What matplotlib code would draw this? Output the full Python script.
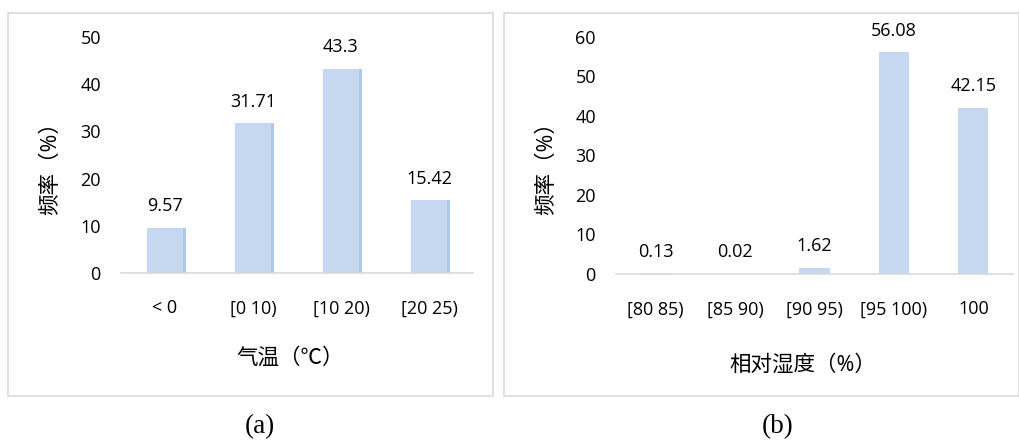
import matplotlib
matplotlib.use("Agg")
import matplotlib.pyplot as plt
from matplotlib.patches import Rectangle
import matplotlib.patheffects as pe

plt.rcParams['font.family'] = ['Open Sans', 'Noto Sans CJK SC', 'DejaVu Sans']

temp_cats = ['< 0', '[0 10)', '[10 20)', '[20 25)']
temp_vals = [9.57, 31.71, 43.3, 15.42]
temp_labels = ['9.57', '31.71', '43.3', '15.42']

hum_cats = ['[80 85)', '[85 90)', '[90 95)', '[95 100)', '100']
hum_vals = [0.13, 0.02, 1.62, 56.08, 42.15]
hum_labels = ['0.13', '0.02', '1.62', '56.08', '42.15']

W, H = 1020, 441
fig = plt.figure(figsize=(W / 100, H / 100), dpi=100)

def fx(px):
    return px / W

def fy(py):
    return 1 - py / H

# panel borders
for x0, x1 in [(8, 493), (504, 1019)]:
    fig.patches.append(Rectangle((fx(x0), fy(396)), fx(x1 - x0), (396 - 13) / H,
                                 transform=fig.transFigure, fill=False,
                                 edgecolor='#D9D9D9', linewidth=1.2))

bar_color = '#C5D8F0'

def setup(ax, cats, vals, labels, ymax, ystep, width, xlabel, ylc, xlc, shadow):
    x = range(len(cats))
    bars = ax.bar(x, vals, width=width, color=bar_color, zorder=2)
    if shadow:
        for b in bars:
            b.set_path_effects([pe.SimplePatchShadow(offset=(1.6, 0), shadow_rgbFace='#8DB3DA', alpha=0.7),
                                pe.Normal()])
    for xi, v, lab in zip(x, vals, labels):
        ax.annotate(lab, (xi, v), xytext=(0, 15.5), textcoords='offset points',
                    ha='center', va='center', fontsize=13, color='black')
    ax.set_xlim(-0.5, len(cats) - 0.5)
    ax.set_ylim(0, ymax)
    ax.set_yticks(range(0, ymax + 1, ystep))
    ax.set_xticks(list(x))
    ax.set_xticklabels(cats)
    for s in ['top', 'right', 'left']:
        ax.spines[s].set_visible(False)
    ax.spines['bottom'].set_color('#D9D9D9')
    ax.spines['bottom'].set_linewidth(1.2)
    ax.tick_params(axis='both', length=0, labelsize=13, colors='black')
    ax.tick_params(axis='x', pad=19)
    ax.tick_params(axis='y', pad=14.5)
    ax.set_ylabel('频率（%）', fontsize=15.5)
    ax.yaxis.set_label_coords(*ylc)
    ax.set_xlabel(xlabel, fontsize=15.5)
    ax.xaxis.set_label_coords(*xlc)
    ax.patch.set_alpha(0)

ax1 = fig.add_axes([fx(121), fy(273), fx(473 - 121), (273 - 37) / H])
setup(ax1, temp_cats, temp_vals, temp_labels, 50, 10, 0.42, '气温（℃）',
      (-0.20, 0.466), (0.48, -0.36), True)
ax1.xaxis.label.set_va('center')
ax1.yaxis.label.set_va('center')

ax2 = fig.add_axes([fx(616), fy(274), fx(1013 - 616), (274 - 37) / H])
setup(ax2, hum_cats, hum_vals, hum_labels, 60, 10, 0.38, '相对湿度（%）',
      (-0.174, 0.468), (0.471, -0.384), False)
ax2.xaxis.label.set_va('center')
ax2.yaxis.label.set_va('center')

fig.text(fx(260), fy(427), '(a)', ha='center', va='center', fontsize=19.5,
         family='Liberation Serif')
fig.text(fx(778), fy(427), '(b)', ha='center', va='center', fontsize=19.5,
         family='Liberation Serif')

fig.savefig('out.png', dpi=100)
